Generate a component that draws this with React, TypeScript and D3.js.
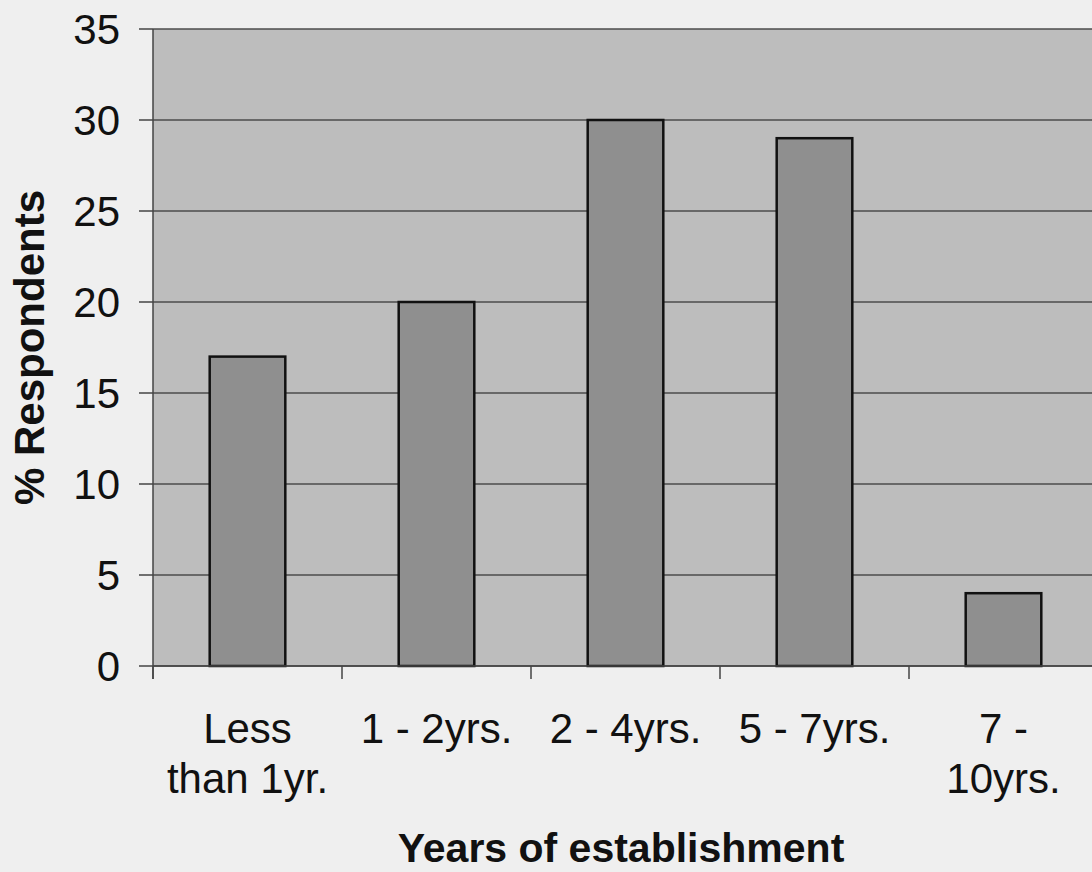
import React from "react";
import * as d3 from "d3";

const categories: string[][] = [
  ["Less", "than 1yr."],
  ["1 - 2yrs."],
  ["2 - 4yrs."],
  ["5 - 7yrs."],
  ["7 -", "10yrs."],
];
const respondents: number[] = [17, 20, 30, 29, 4];
const yTicks: number[] = [0, 5, 10, 15, 20, 25, 30, 35];

const yAxisTitle = "% Respondents";
const xAxisTitle = "Years of establishment";

const W = 1092;
const H = 872;
const plot = { left: 153, top: 29, right: 1098, bottom: 666 };
const FONT = "'Liberation Sans', Arial, Helvetica, sans-serif";

export default function App() {
  const keys = categories.map((c) => c.join(" "));
  const x = d3
    .scaleBand<string>()
    .domain(keys)
    .range([plot.left, plot.right])
    .paddingInner(0.6)
    .paddingOuter(0.3);
  const y = d3.scaleLinear().domain([0, 35]).range([plot.bottom, plot.top]);
  const step = x.step();
  const boundaries = keys.map((k) => (x(k) as number) - step * 0.3);

  return (
    <svg
      width={W}
      height={H}
      viewBox={`0 0 ${W} ${H}`}
      style={{ position: "absolute", left: 0, top: 0, background: "#efefef" }}
    >
      <rect x={0} y={0} width={W} height={H} fill="#efefef" />
      {/* plot area */}
      <rect
        x={plot.left}
        y={plot.top}
        width={plot.right - plot.left}
        height={plot.bottom - plot.top}
        fill="#bdbdbd"
      />
      {/* gridlines */}
      {yTicks.map((t) => (
        <line
          key={`g${t}`}
          x1={plot.left}
          x2={plot.right}
          y1={y(t)}
          y2={y(t)}
          stroke="#4d4d4d"
          strokeWidth={1.5}
        />
      ))}
      {/* bars */}
      {keys.map((k, i) => (
        <rect
          key={k}
          x={x(k)}
          y={y(respondents[i])}
          width={x.bandwidth()}
          height={y(0) - y(respondents[i])}
          fill="#8f8f8f"
          stroke="#111"
          strokeWidth={2.5}
        />
      ))}
      {/* y axis */}
      <line
        x1={plot.left}
        x2={plot.left}
        y1={plot.top}
        y2={plot.bottom + 13}
        stroke="#444"
        strokeWidth={1.5}
      />
      {yTicks.map((t) => (
        <g key={`t${t}`}>
          <line
            x1={plot.left - 14}
            x2={plot.left}
            y1={y(t)}
            y2={y(t)}
            stroke="#444"
            strokeWidth={1.5}
          />
          <text
            x={120}
            y={y(t)}
            dy="0.36em"
            textAnchor="end"
            fontFamily={FONT}
            fontSize={42}
            fill="#111"
          >
            {t}
          </text>
        </g>
      ))}
      {/* x axis */}
      <line
        x1={plot.left}
        x2={plot.right}
        y1={plot.bottom}
        y2={plot.bottom}
        stroke="#444"
        strokeWidth={1.5}
      />
      {boundaries.map((b, i) => (
        <line
          key={`xb${i}`}
          x1={b}
          x2={b}
          y1={plot.bottom}
          y2={plot.bottom + 13}
          stroke="#444"
          strokeWidth={1.5}
        />
      ))}
      {categories.map((lines, i) => (
        <text
          key={`c${i}`}
          x={(x(keys[i]) as number) + x.bandwidth() / 2}
          y={743}
          textAnchor="middle"
          fontFamily={FONT}
          fontSize={42}
          fill="#111"
        >
          {lines.map((l, j) => (
            <tspan
              key={j}
              x={(x(keys[i]) as number) + x.bandwidth() / 2}
              dy={j === 0 ? 0 : 50}
            >
              {l}
            </tspan>
          ))}
        </text>
      ))}
      {/* axis titles */}
      <text
        x={621}
        y={862}
        textAnchor="middle"
        fontFamily={FONT}
        fontSize={41}
        fontWeight="bold"
        fill="#111"
      >
        {xAxisTitle}
      </text>
      <text
        transform={`translate(44, ${(plot.top + plot.bottom) / 2}) rotate(-90)`}
        textAnchor="middle"
        fontFamily={FONT}
        fontSize={42}
        fontWeight="bold"
        fill="#111"
      >
        {yAxisTitle}
      </text>
    </svg>
  );
}
